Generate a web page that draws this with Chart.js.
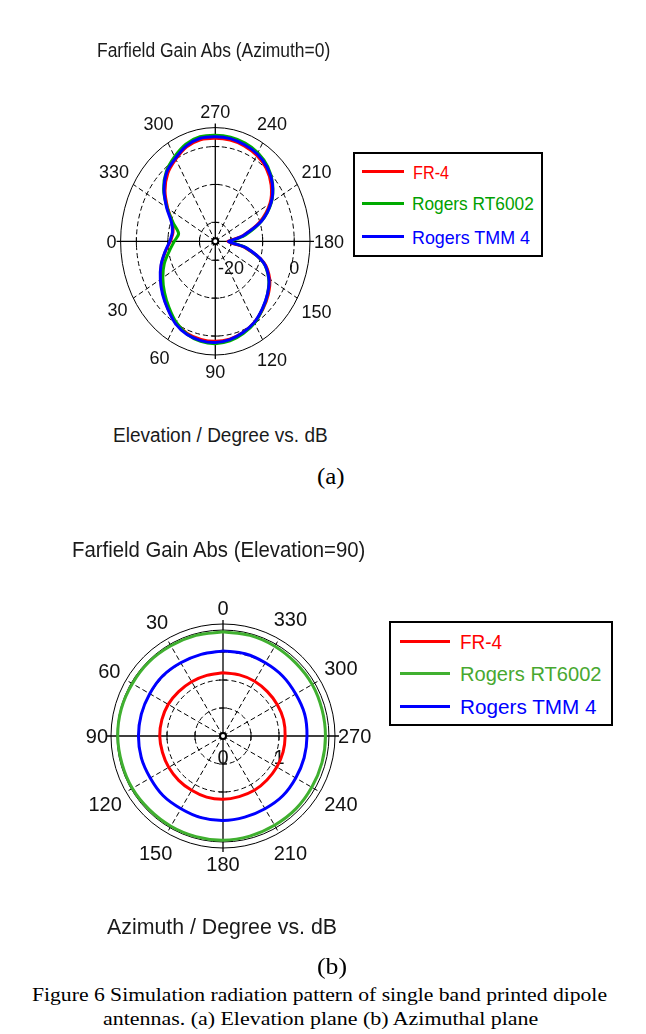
<!DOCTYPE html>
<html>
<head>
<meta charset="utf-8">
<script src="https://cdn.jsdelivr.net/npm/chart.js@4.4.0/dist/chart.umd.min.js"></script>
<style>
html, body { margin: 0; padding: 0; background: #fff; }
body { width: 646px; height: 1034px; position: relative; overflow: hidden; font-family: "Liberation Sans", Arial, sans-serif; }
canvas { position: absolute; left: 0; }
.txt { position: absolute; white-space: nowrap; line-height: 1; color: #1a1a1a; transform-origin: 0 0; }
.serif { font-family: "Liberation Serif", "Times New Roman", serif; color: #000; }
.legend { position: absolute; border: 2px solid #000; box-sizing: border-box; background: #fff; }
.swatch { position: absolute; height: 3px; }
</style>
</head>
<body>

<canvas id="elev" width="646" height="420" style="top:0"></canvas>
<canvas id="azim" width="646" height="420" style="top:500px"></canvas>

<div class="txt" style="font-size:20px" data-cx="213.7" data-w="233" data-b="56.7">Farfield Gain Abs (Azimuth=0)</div>
<div class="txt" style="font-size:20px" data-cx="220.5" data-w="215" data-b="442">Elevation / Degree vs. dB</div>
<div class="txt serif" style="font-size:24px" data-cx="331" data-w="28" data-b="484">(a)</div>

<div class="txt" style="font-size:21.8px" data-cx="218.3" data-w="293" data-b="557.3">Farfield Gain Abs (Elevation=90)</div>
<div class="txt" style="font-size:21.8px" data-cx="222" data-w="230" data-b="934">Azimuth / Degree vs. dB</div>
<div class="txt serif" style="font-size:24px" data-cx="331.5" data-w="30" data-b="974">(b)</div>

<div class="txt serif" style="font-size:19px" data-cx="319.5" data-w="575" data-b="1001">Figure 6 Simulation radiation pattern of single band printed dipole</div>
<div class="txt serif" style="font-size:19px" data-cx="320.5" data-w="435" data-b="1025">antennas. (a) Elevation plane (b) Azimuthal plane</div>

<div class="legend" style="left:353px; top:152px; width:190px; height:105px"></div>
<div class="swatch" style="left:362px; width:42px; top:170.2px; background:#ff0000"></div>
<div class="swatch" style="left:362px; width:42px; top:201.8px; background:#00aa00"></div>
<div class="swatch" style="left:362px; width:42px; top:235.2px; background:#0000ff"></div>
<div class="txt" style="font-size:18.5px; color:#ff0000" data-x="412.5" data-w="36" data-b="179.3">FR-4</div>
<div class="txt" style="font-size:18.5px; color:#00a000" data-x="412" data-w="121.5" data-b="211">Rogers RT6002</div>
<div class="txt" style="font-size:18.5px; color:#0000ff" data-x="412" data-w="118" data-b="244.3">Rogers TMM 4</div>

<div class="legend" style="left:389px; top:621px; width:224px; height:105px"></div>
<div class="swatch" style="left:400px; width:50px; top:640.2px; background:#ff0000"></div>
<div class="swatch" style="left:400px; width:50px; top:671.8px; background:#40b030"></div>
<div class="swatch" style="left:400px; width:50px; top:704.5px; background:#0000ff"></div>
<div class="txt" style="font-size:20px; color:#ff0000" data-x="460" data-w="41.7" data-b="649.3">FR-4</div>
<div class="txt" style="font-size:20px; color:#48a830" data-x="460" data-w="141.7" data-b="681">Rogers RT6002</div>
<div class="txt" style="font-size:20px; color:#0000ff" data-x="460" data-w="136.7" data-b="713.6">Rogers TMM 4</div>

<script>
// Elevation plane (Azimuth=0), gain in dB
const elevAngles = [0, 10, 20, 30, 40, 50, 60, 70, 80, 90, 100, 110, 120, 130, 140, 150, 160, 170, 175,
                    180, 185, 190, 200, 210, 220, 230, 240, 250, 260, 270, 280, 290, 300, 310, 320, 330, 340, 350];
const elevFR4 = [-10.8, -8.9, -6.8, -5.0, -3.4, -1.7, -0.1, 0.9, 1.3, 1.4, 1.2, 0.6, -0.3, -1.6, -3.1, -5.1, -8.6, -15.4, -19.8,
                 -21.0, -19.2, -16.0, -10.0, -5.0, -1.9, 0.1, 1.2, 1.8, 2.1, 2.2, 2.2, 1.5, 0.0, -1.6, -4.2, -7.6, -10.5, -11.4];
const elevRT6002 = [-12.0, -10.2, -7.8, -5.8, -4.0, -2.2, -0.3, 1.1, 1.8, 2.0, 1.7, 0.9, -0.1, -1.7, -3.4, -5.5, -8.9, -15.0, -19.0,
                    -20.5, -18.4, -15.2, -9.4, -4.5, -1.3, 0.8, 2.0, 2.6, 2.9, 3.0, 3.0, 2.3, 0.8, -0.9, -3.6, -7.4, -10.8, -13.2];
const elevTMM4 = [-10.6, -8.8, -6.7, -4.9, -3.2, -1.6, 0.15, 1.2, 1.6, 1.7, 1.35, 0.6, -0.3, -1.8, -3.4, -5.4, -8.8, -15.0, -19.5,
                  -20.8, -18.7, -15.8, -9.4, -4.6, -1.4, 0.5, 1.6, 2.1, 2.5, 2.6, 2.6, 1.8, 0.3, -1.1, -3.8, -7.2, -10.2, -11.2];
const elevRings = [-20, -10, 0];
const elevRingLabels = [-20, 0];
const elevAngleTicks = [0, 30, 60, 90, 120, 150, 180, 210, 240, 270, 300, 330];

// Azimuthal plane (Elevation=90), gain in dB
const azimAngles = [0, 15, 30, 45, 60, 75, 90, 105, 120, 135, 150, 165, 180, 195, 210, 225, 240, 255, 270, 285, 300, 315, 330, 345];
const azimFR4 = [1.13, 1.12, 1.12, 1.12, 1.13, 1.13, 1.13, 1.12, 1.12, 1.12, 1.12, 1.13, 1.13, 1.12, 1.12, 1.11, 1.11, 1.11, 1.11, 1.12, 1.12, 1.12, 1.13, 1.13];
const azimRT6002 = [1.86, 1.86, 1.86, 1.87, 1.87, 1.88, 1.88, 1.87, 1.87, 1.86, 1.86, 1.86, 1.86, 1.85, 1.84, 1.84, 1.83, 1.83, 1.83, 1.83, 1.84, 1.84, 1.85, 1.86];
const azimTMM4 = [1.52, 1.51, 1.51, 1.52, 1.51, 1.51, 1.51, 1.51, 1.50, 1.51, 1.50, 1.51, 1.51, 1.50, 1.50, 1.51, 1.50, 1.50, 1.50, 1.51, 1.50, 1.51, 1.51, 1.52];
const azimRings = [0.5, 1, 1.5];
const azimRingLabels = [0, 1];
const azimAngleTicks = [0, 30, 60, 90, 120, 150, 180, 210, 240, 270, 300, 330];

const rad = a => a * Math.PI / 180;
// unit direction (x right, y up) for an angle in each plot's convention
const elevDir = a => [-Math.cos(rad(a)), -Math.sin(rad(a))];
const azimDir = a => [-Math.sin(rad(a)), Math.cos(rad(a))];

function toPoints(angles, vals, dir, rMin, rMax) {
    const pts = angles.map((a, i) => {
        const f = (vals[i] - rMin) / (rMax - rMin);
        const d = dir(a);
        return { x: d[0] * f, y: d[1] * f };
    });
    pts.push(pts[0]);
    return pts;
}

// Draws the polar grid, labels and centre marker on top of an x/y scatter chart
const polarGrid = {
    id: 'polarGrid',
    beforeDatasetsDraw(chart, args, o) {
        const ctx = chart.ctx;
        const xs = chart.scales.x, ys = chart.scales.y;
        const cx = xs.getPixelForValue(0), cy = ys.getPixelForValue(0);
        const rx = xs.getPixelForValue(1) - cx, ry = cy - ys.getPixelForValue(1);
        const frac = v => (v - o.rMin) / (o.rMax - o.rMin);
        ctx.save();
        ctx.strokeStyle = '#000';
        ctx.lineWidth = 1;

        // dashed rings and spokes
        ctx.setLineDash([5, 3]);
        o.rings.forEach(v => {
            const f = frac(v);
            ctx.beginPath();
            ctx.ellipse(cx, cy, rx * f, ry * f, 0, 0, 2 * Math.PI);
            ctx.stroke();
        });
        o.ticks.forEach(a => {
            if (a % 90 === 0) return;
            const d = o.dir(a);
            ctx.beginPath();
            ctx.moveTo(cx, cy);
            ctx.lineTo(cx + d[0] * rx, cy - d[1] * ry);
            ctx.stroke();
        });
        ctx.setLineDash([]);

        // outer ring(s)
        o.outer.forEach(f => {
            ctx.beginPath();
            ctx.ellipse(cx, cy, rx * f, ry * f, 0, 0, 2 * Math.PI);
            ctx.stroke();
        });

        // main axes
        ctx.lineWidth = 1.3;
        ctx.beginPath();
        ctx.moveTo(cx - rx - 4, cy); ctx.lineTo(cx + rx + 4, cy);
        ctx.moveTo(cx, cy - ry - 4); ctx.lineTo(cx, cy + ry + 4);
        ctx.stroke();
        ctx.lineWidth = 1;
        o.rings.forEach(v => {
            const f = frac(v);
            ctx.beginPath();
            ctx.moveTo(cx + rx * f, cy - 4); ctx.lineTo(cx + rx * f, cy + 4);
            ctx.moveTo(cx - rx * f, cy - 4); ctx.lineTo(cx - rx * f, cy + 4);
            ctx.moveTo(cx - 4, cy - ry * f); ctx.lineTo(cx + 4, cy - ry * f);
            ctx.moveTo(cx - 4, cy + ry * f); ctx.lineTo(cx + 4, cy + ry * f);
            ctx.stroke();
        });

        // angle labels
        ctx.fillStyle = '#111';
        ctx.font = o.fontSize + 'px "Liberation Sans", Arial, sans-serif';
        ctx.textAlign = 'center';
        ctx.textBaseline = 'alphabetic';
        const h = o.fontSize * 0.72;
        o.ticks.forEach(a => {
            const d = o.dir(a);
            const ex = d[0] * rx, ey = -d[1] * ry;
            const len = Math.hypot(ex, ey);
            const ux = ex / len, uy = ey / len;
            const w = ctx.measureText(String(a)).width;
            const off = o.gap0 + o.gap1 * Math.abs(uy) + Math.abs(ux) * w / 2 + Math.abs(uy) * h / 2;
            ctx.fillText(String(a), cx + ex + ux * off, cy + ey + uy * off + h / 2);
        });

        // radial labels
        o.ringLabels.forEach(v => {
            ctx.fillText(String(v), cx + rx * frac(v), cy + o.labelDy + h / 2);
        });
        ctx.restore();
    },
    afterDatasetsDraw(chart) {
        const ctx = chart.ctx;
        const cx = chart.scales.x.getPixelForValue(0), cy = chart.scales.y.getPixelForValue(0);
        ctx.save();
        ctx.beginPath();
        ctx.arc(cx, cy, 3, 0, 2 * Math.PI);
        ctx.fillStyle = '#fff';
        ctx.fill();
        ctx.lineWidth = 2;
        ctx.strokeStyle = '#000';
        ctx.stroke();
        ctx.restore();
    }
};

function makeChart(id, series, grid, padding) {
    return new Chart(document.getElementById(id), {
        type: 'scatter',
        data: {
            datasets: series.map(s => ({
                label: s.label,
                data: toPoints(s.angles, s.values, grid.dir, grid.rMin, grid.rMax),
                showLine: true,
                borderColor: s.color,
                borderWidth: 3,
                pointRadius: 0,
                tension: 0.3,
                fill: false,
                clip: false,
                order: s.order
            }))
        },
        options: {
            responsive: false,
            animation: false,
            layout: { padding: padding },
            scales: {
                x: { type: 'linear', min: -1, max: 1, display: false },
                y: { type: 'linear', min: -1, max: 1, display: false }
            },
            plugins: {
                legend: { display: false },
                tooltip: { enabled: false },
                polarGrid: grid
            }
        },
        plugins: [polarGrid]
    });
}

function placeText() {
    document.querySelectorAll('.txt').forEach(el => {
        const fs = parseFloat(getComputedStyle(el).fontSize);
        const base = el.classList.contains('serif') ? 0.8375 : 0.8465;
        const w0 = el.offsetWidth;
        const tw = +el.dataset.w;
        const left = el.dataset.cx !== undefined ? +el.dataset.cx - tw / 2 : +el.dataset.x;
        el.style.left = left + 'px';
        el.style.top = (+el.dataset.b - base * fs) + 'px';
        el.style.transform = 'scaleX(' + (tw / w0) + ')';
    });
}

function init() {
    placeText();

    makeChart('elev', [
        { label: 'FR-4', angles: elevAngles, values: elevFR4, color: '#ff0000', order: 2 },
        { label: 'Rogers RT6002', angles: elevAngles, values: elevRT6002, color: '#00b000', order: 1 },
        { label: 'Rogers TMM 4', angles: elevAngles, values: elevTMM4, color: '#0000ff', order: 0 }
    ], {
        dir: elevDir, rMin: -25, rMax: 5,
        rings: elevRings, ringLabels: elevRingLabels, ticks: elevAngleTicks,
        outer: [1], fontSize: 18, gap0: 4, gap1: 6, labelDy: 26
    }, { left: 120.6, right: 336, top: 127.6, bottom: 65 });

    makeChart('azim', [
        { label: 'FR-4', angles: azimAngles, values: azimFR4, color: '#ff0000', order: 2 },
        { label: 'Rogers RT6002', angles: azimAngles, values: azimRT6002, color: '#40b030', order: 1 },
        { label: 'Rogers TMM 4', angles: azimAngles, values: azimTMM4, color: '#0000ff', order: 0 }
    ], {
        dir: azimDir, rMin: 0, rMax: 2,
        rings: azimRings, ringLabels: azimRingLabels, ticks: azimAngleTicks,
        outer: [1, 0.946], fontSize: 20, gap0: 3, gap1: 6, labelDy: 21
    }, { left: 111, right: 311, top: 124, bottom: 72 });
}

document.fonts.ready.then(init);
</script>
</body>
</html>
